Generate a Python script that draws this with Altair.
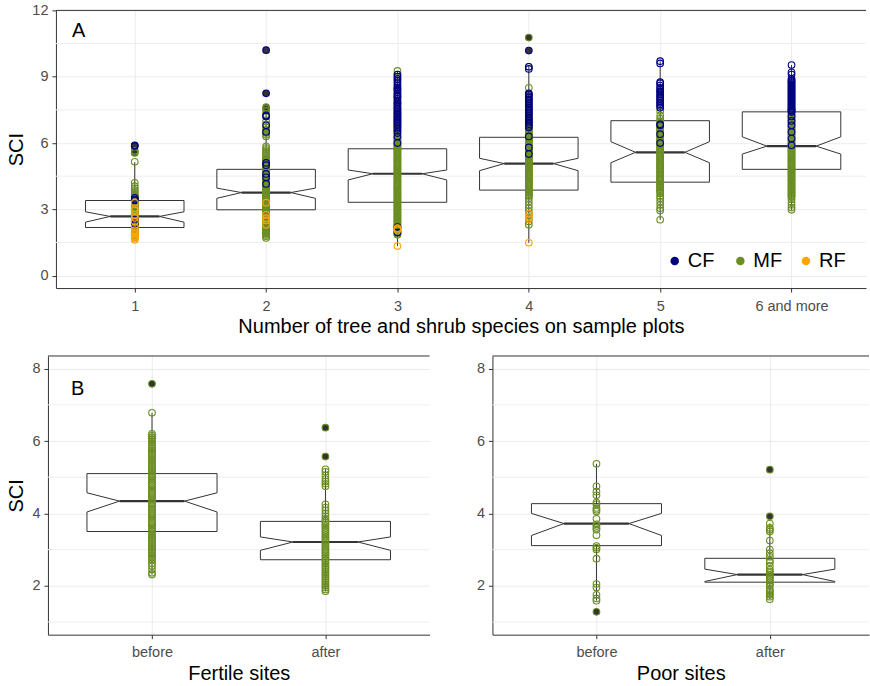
import json
import altair as alt
import pandas as pd

FONT = "Liberation Sans"

# ---------------- data ----------------
types = ["CF", "MF", "RF"]
type_colors = ["#000080", "#6B8E23", "#FFA500"]

top_cats = ["1", "2", "3", "4", "5", "6 and more"]
top_pos = [1, 2, 3, 4, 5, 6]
top_q1 = [2.18, 2.98, 3.32, 3.87, 4.23, 4.81]
top_med = [2.68, 3.76, 4.61, 5.07, 5.58, 5.86]
top_q3 = [3.40, 4.81, 5.74, 6.26, 7.01, 7.41]
top_nlo = [2.42, 3.50, 4.33, 4.75, 5.11, 5.50]
top_nhi = [2.89, 3.96, 4.78, 5.31, 6.06, 6.28]
top_wlo = [1.62, 1.71, 1.34, 1.49, 2.53, 2.98]
top_whi = [5.13, 7.45, 9.26, 9.49, 9.70, 9.53]

top_out_cf = [[5.87, 5.90], [8.25, 10.20], [], [10.18], [], []]
top_out_mf = [[5.55, 5.60, 5.65], [7.55, 7.62], [], [10.77], [], []]

mf_pts = [
    [1.75, 1.82, 1.88, 1.93, 1.98, 2.03, 2.08, 2.13, 2.18, 2.23, 2.28, 2.33, 2.38, 2.43, 2.48,
     2.53, 2.58, 2.63, 2.68, 2.73, 2.78, 2.83, 2.88, 2.93, 2.98, 3.03, 3.08, 3.13, 3.18, 3.23,
     3.28, 3.33, 3.38, 3.44, 3.5, 3.57, 3.63, 3.7, 3.78, 3.86, 3.95, 4.05, 4.2, 5.15, 5.55, 5.6,
     5.65],
    [1.71, 1.78, 1.84, 1.9, 1.95, 2.0, 2.05, 2.1, 2.15, 2.2, 2.25, 2.3, 2.35, 2.4, 2.45, 2.5,
     2.55, 2.6, 2.65, 2.7, 2.75, 2.8, 2.85, 2.9, 2.95, 3.0, 3.05, 3.1, 3.15, 3.2, 3.25, 3.3, 3.35,
     3.4, 3.45, 3.5, 3.55, 3.6, 3.65, 3.7, 3.75, 3.8, 3.85, 3.9, 3.95, 4.0, 4.05, 4.1, 4.15, 4.2,
     4.25, 4.3, 4.35, 4.4, 4.45, 4.5, 4.55, 4.6, 4.65, 4.7, 4.75, 4.8, 4.85, 4.9, 4.95, 5.0, 5.05,
     5.1, 5.15, 5.2, 5.25, 5.3, 5.38, 5.45, 5.52, 5.6, 5.68, 5.77, 5.85, 6.3, 6.38, 6.45, 6.52,
     6.6, 6.7, 6.85, 7.0, 7.3, 7.45, 7.55, 7.62],
    [1.85, 1.9, 1.95, 2.0, 2.05, 2.1, 2.15, 2.2, 2.25, 2.3, 2.35, 2.4, 2.45, 2.5, 2.55, 2.6,
     2.65, 2.7, 2.75, 2.8, 2.85, 2.9, 2.95, 3.0, 3.05, 3.1, 3.15, 3.2, 3.25, 3.3, 3.35, 3.4, 3.45,
     3.5, 3.55, 3.6, 3.65, 3.7, 3.75, 3.8, 3.85, 3.9, 3.95, 4.0, 4.05, 4.1, 4.15, 4.2, 4.25, 4.3,
     4.35, 4.4, 4.45, 4.5, 4.55, 4.6, 4.65, 4.7, 4.75, 4.8, 4.85, 4.9, 4.95, 5.0, 5.05, 5.1, 5.15,
     5.2, 5.25, 5.3, 5.35, 5.4, 5.45, 5.5, 5.55, 5.6, 5.65, 5.7, 5.75, 5.8, 5.85, 5.9, 5.95, 6.0,
     6.05, 6.1, 6.15, 6.2, 6.25, 6.3, 6.4, 6.5, 6.6, 6.7, 6.8, 6.9, 7.0, 7.1, 7.25, 7.4, 7.55,
     7.8, 8.1, 8.45, 8.9, 9.1, 9.26],
    [2.3, 2.45, 2.6, 2.75, 2.9, 3.05, 3.2, 3.35, 3.5, 3.6, 3.65, 3.7, 3.75, 3.8, 3.85, 3.9, 3.95,
     4.0, 4.05, 4.1, 4.15, 4.2, 4.25, 4.3, 4.35, 4.4, 4.45, 4.5, 4.55, 4.6, 4.65, 4.7, 4.75, 4.8,
     4.85, 4.9, 4.95, 5.0, 5.05, 5.1, 5.15, 5.2, 5.25, 5.3, 5.35, 5.4, 5.45, 5.5, 5.55, 5.6, 5.65,
     5.7, 5.75, 5.8, 5.85, 5.9, 5.95, 6.0, 6.05, 6.1, 6.15, 6.2, 6.25, 6.3, 6.35, 6.4, 6.45, 6.5,
     6.55, 6.6, 6.7, 6.8, 6.9, 7.0, 7.1, 7.35, 7.6, 7.9, 8.2, 8.5, 9.45, 10.77],
    [2.53, 2.95, 3.05, 3.2, 3.35, 3.5, 3.6, 3.72, 3.8, 3.86, 3.92, 3.98, 4.04, 4.1, 4.16, 4.22,
     4.28, 4.34, 4.4, 4.46, 4.52, 4.58, 4.64, 4.7, 4.76, 4.82, 4.88, 4.94, 5.0, 5.06, 5.12, 5.18,
     5.24, 5.3, 5.36, 5.42, 5.48, 5.54, 5.6, 5.66, 5.72, 5.78, 5.84, 5.9, 5.96, 6.02, 6.08, 6.14,
     6.2, 6.26, 6.32, 6.38, 6.44, 6.5, 6.56, 6.62, 6.68, 6.74, 6.8, 6.86, 6.92, 6.98, 7.1, 7.25,
     7.45],
    [2.98, 3.08, 3.2, 3.32, 3.45, 3.55, 3.6, 3.65, 3.7, 3.75, 3.8, 3.85, 3.9, 3.95, 4.0, 4.05,
     4.1, 4.15, 4.2, 4.25, 4.3, 4.35, 4.4, 4.45, 4.5, 4.55, 4.6, 4.65, 4.7, 4.75, 4.8, 4.85, 4.9,
     4.95, 5.0, 5.05, 5.1, 5.15, 5.2, 5.25, 5.3, 5.35, 5.4, 5.45, 5.5, 5.55, 5.6, 5.65, 5.7, 5.75,
     5.8, 5.85, 5.9, 5.95, 6.0, 6.05, 6.1, 6.15, 6.2, 6.25, 6.3, 6.35, 6.4, 6.45, 6.5, 6.55, 6.6,
     6.65, 6.7, 6.75, 6.8, 6.85, 6.9, 6.95, 7.0, 7.05, 7.1, 7.15, 7.2, 7.25, 7.3, 7.35, 7.4, 7.45,
     7.5, 7.55],
]
cf_pts = [
    [2.35, 2.52, 3.4, 3.45, 3.52, 5.87, 5.9],
    [4.15, 4.45, 4.6, 5.0, 5.1, 6.5, 6.8, 7.2, 7.25, 8.25, 10.2],
    [1.95, 2.2, 6.0, 6.3, 6.45, 6.55, 6.65, 6.72, 6.8, 6.87, 6.94, 7.0, 7.07, 7.14, 7.2, 7.27,
     7.34, 7.4, 7.48, 7.55, 7.62, 7.7, 7.78, 7.85, 7.92, 8.0, 8.08, 8.15, 8.22, 8.3, 8.38, 8.45,
     8.52, 8.6, 8.7, 8.8, 8.9, 9.0, 9.1],
    [5.5, 5.8, 6.3, 6.7, 6.77, 6.85, 6.92, 7.0, 7.07, 7.15, 7.22, 7.3, 7.38, 7.45, 7.52, 7.6,
     7.68, 7.75, 7.82, 7.9, 7.98, 8.05, 8.12, 8.2, 8.25, 9.35, 9.45, 10.18],
    [6.0, 6.4, 6.8, 6.85, 7.6, 7.68, 7.75, 7.82, 7.9, 7.98, 8.05, 8.12, 8.2, 8.28, 8.35, 8.42,
     8.5, 8.6, 8.7, 8.75, 9.6, 9.7],
    [5.9, 6.2, 6.5, 6.8, 7.0, 7.2, 7.4, 7.45, 7.5, 7.55, 7.6, 7.65, 7.7, 7.75, 7.8, 7.85, 7.9,
     7.95, 8.0, 8.05, 8.1, 8.15, 8.2, 8.25, 8.3, 8.35, 8.4, 8.45, 8.5, 8.55, 8.6, 8.65, 8.7, 8.75,
     8.8, 8.85, 8.9, 9.1, 9.2, 9.53],
]
rf_pts = [
    [1.62, 1.67, 1.72, 1.78, 1.84, 1.9, 1.97, 2.05, 2.2, 2.45, 2.62, 2.75, 2.95, 3.05, 3.3],
    [2.3, 2.5, 2.6, 2.75, 3.3],
    [1.34, 2.07, 2.15],
    [1.49, 2.55, 2.65, 2.8],
    [],
    [],
]

top_y_ticks = [0, 3, 6, 9, 12]
top_y_minor = [1.5, 4.5, 7.5, 10.5]

site_cats = ["before", "after"]
site_pos = [1, 2]
fert_q1 = [3.50, 2.72]
fert_med = [4.34, 3.21]
fert_q3 = [5.10, 3.78]
fert_nlo = [4.04, 2.98]
fert_nhi = [4.57, 3.35]
fert_wlo = [2.31, 1.85]
fert_whi = [6.78, 5.22]
fert_out = [[7.58], [5.57, 6.37]]
fert_pts = [
    [2.31, 2.36, 2.45, 2.55, 2.62, 2.7, 2.75, 2.8, 2.85, 2.9, 2.95, 3.0, 3.05, 3.1, 3.15, 3.2,
     3.25, 3.3, 3.35, 3.4, 3.45, 3.5, 3.55, 3.6, 3.65, 3.7, 3.75, 3.8, 3.85, 3.9, 3.95, 4.0, 4.05,
     4.1, 4.15, 4.2, 4.25, 4.3, 4.35, 4.4, 4.45, 4.5, 4.55, 4.6, 4.65, 4.7, 4.75, 4.8, 4.85, 4.9,
     4.95, 5.0, 5.05, 5.1, 5.15, 5.2, 5.25, 5.3, 5.35, 5.4, 5.45, 5.5, 5.55, 5.6, 5.65, 5.7, 5.75,
     5.8, 5.85, 5.9, 5.95, 6.0, 6.05, 6.1, 6.15, 6.2, 6.78, 7.58],
    [1.85, 1.9, 1.95, 2.0, 2.05, 2.1, 2.15, 2.2, 2.25, 2.3, 2.35, 2.4, 2.45, 2.5, 2.55, 2.6, 2.65,
     2.7, 2.75, 2.8, 2.85, 2.9, 2.95, 3.0, 3.05, 3.1, 3.15, 3.2, 3.25, 3.3, 3.35, 3.4, 3.45, 3.5,
     3.55, 3.6, 3.65, 3.7, 3.75, 3.8, 3.85, 3.92, 4.0, 4.08, 4.16, 4.25, 4.75, 4.82, 4.88, 4.95,
     5.05, 5.15, 5.22, 5.57, 6.37],
]

poor_q1 = [3.11, 2.10]
poor_med = [3.72, 2.31]
poor_q3 = [4.27, 2.76]
poor_nlo = [3.39, 2.12]
poor_nhi = [4.00, 2.46]
poor_wlo = [1.59, 1.63]
poor_whi = [5.37, 3.72]
poor_out = [[1.28], [3.92, 5.21]]
poor_pts = [
    [1.28, 1.59, 1.65, 1.75, 1.95, 2.05, 2.75, 3.0, 3.05, 3.1, 3.4, 3.55, 3.6, 3.65, 3.7, 3.85,
     4.05, 4.1, 4.15, 4.25, 4.3, 4.5, 4.6, 4.75, 5.37],
    [1.63, 1.7, 1.75, 1.8, 1.85, 1.9, 2.0, 2.05, 2.1, 2.15, 2.2, 2.25, 2.3, 2.35, 2.4, 2.45,
     2.55, 2.65, 2.7, 2.8, 2.9, 3.0, 3.25, 3.5, 3.55, 3.6, 3.72, 3.92, 5.21],
]

site_y_ticks = [2, 4, 6, 8]
site_y_minor = [1, 3, 5, 7]

# ---------------- helpers ----------------
HALF = 0.375
OUTLINE = [(-1, "q3"), (-1, "nhi"), (-0.5, "med"), (-1, "nlo"), (-1, "q1"),
           (1, "q1"), (1, "nlo"), (0.5, "med"), (1, "nhi"), (1, "q3"), (-1, "q3")]
INK = "#333333"
GRID = "#ebebeb"
MINOR = "#efefef"
LEG_X0, LEG_STEP, LEG_Y, LEG_TXT = 619.5, 65.7, 251, 13


def panel(pos, cats, q1, med, q3, nlo, nhi, wlo, whi, outl, points, xdom, ydom,
          yticks, yminor, width, height, xtitle, ytitle, letter, letter_xy, legend=False):
    outline_rows = []
    for i, p in enumerate(pos):
        st = dict(q1=q1[i], med=med[i], q3=q3[i], nlo=nlo[i], nhi=nhi[i])
        for k, (f, s) in enumerate(OUTLINE):
            outline_rows.append(dict(box=i, k=k, x=p + f * HALF, y=st[s]))
    outline = pd.DataFrame(outline_rows)
    stats = pd.DataFrame(dict(x=pos, xl=[p - HALF / 2 for p in pos], xr=[p + HALF / 2 for p in pos],
                              med=med, q1=q1, q3=q3, wlo=wlo, whi=whi))
    out_rows = [dict(x=pos[i], y=v) for i, vals in enumerate(outl) for v in vals]
    outdf = pd.DataFrame(out_rows, columns=["x", "y"])
    ptdf = pd.DataFrame(points, columns=["x", "y", "type"])

    xs = alt.Scale(domain=xdom, zero=False, nice=False)
    ys = alt.Scale(domain=ydom, zero=False, nice=False)
    label_expr = json.dumps(cats) + "[round(datum.value) - 1]"
    xaxis = alt.Axis(values=pos, labelExpr=label_expr, title=xtitle, grid=True,
                     labelPadding=7, titlePadding=4)
    yaxis = alt.Axis(values=yticks, title=ytitle, grid=True, minExtent=0,
                     labelPadding=4, titlePadding=5)

    def X(f):
        return alt.X(f, type="quantitative", scale=xs, axis=xaxis)

    def Y(f):
        return alt.Y(f, type="quantitative", scale=ys, axis=yaxis)

    layers = []
    layers.append(alt.Chart(pd.DataFrame({"m": yminor})).mark_rule(color=MINOR, strokeWidth=1)
                  .encode(y=Y("m")))
    layers.append(alt.Chart(stats).mark_rule(color=INK, strokeWidth=1).encode(x=X("x"), y=Y("q3"), y2="whi"))
    layers.append(alt.Chart(stats).mark_rule(color=INK, strokeWidth=1).encode(x=X("x"), y=Y("wlo"), y2="q1"))
    layers.append(alt.Chart(outline).mark_line(color=INK, strokeWidth=1)
                  .encode(x=X("x"), y=Y("y"), detail="box:N", order="k:Q"))
    layers.append(alt.Chart(stats).mark_rule(color=INK, strokeWidth=2.2)
                  .encode(x=X("xl"), x2="xr", y=Y("med")))
    layers.append(alt.Chart(outdf).mark_point(filled=True, color=INK, size=44, opacity=1)
                  .encode(x=X("x"), y=Y("y")))
    layers.append(alt.Chart(ptdf).mark_point(filled=False, size=44, strokeWidth=1.1, opacity=1)
                  .encode(x=X("x"), y=Y("y"),
                          stroke=alt.Stroke("type:N", scale=alt.Scale(domain=types, range=type_colors),
                                            legend=None)))
    if legend:
        for i, (t, c) in enumerate(zip(types, type_colors)):
            d = pd.DataFrame({"t": [t]})
            layers.append(alt.Chart(d).mark_point(filled=True, size=72, color=c, opacity=1)
                          .encode(x=alt.value(LEG_X0 + i * LEG_STEP), y=alt.value(LEG_Y)))
            layers.append(alt.Chart(d).mark_text(fontSize=20, font=FONT, align="left",
                                                 baseline="middle", color="black")
                          .encode(x=alt.value(LEG_X0 + i * LEG_STEP + LEG_TXT), y=alt.value(LEG_Y),
                                  text="t:N"))
    if letter:
        one = pd.DataFrame({"t": [letter]})
        layers.append(alt.Chart(one).mark_text(fontSize=20, font=FONT, align="left", baseline="middle",
                                               color="black")
                      .encode(x=alt.value(letter_xy[0]), y=alt.value(letter_xy[1]), text="t:N"))
    layers.append(alt.Chart(pd.DataFrame({"t": [0]})).mark_rule(color=INK, strokeWidth=1)
                  .encode(x=alt.value(0), x2=alt.value(width), y=alt.value(0)))
    return alt.layer(*layers).properties(width=width, height=height)


def pts_table(pos, groups):
    rows = []
    for tname, lists in groups:
        for i, vals in enumerate(lists):
            for v in vals:
                rows.append((pos[i], v, tname))
    return rows


def spacer():
    return (alt.Chart(pd.DataFrame({"s": [0]})).mark_point(opacity=0, size=1)
            .encode(x=alt.value(0), y=alt.value(0)).properties(width=1, height=1))


top_points = pts_table(top_pos, [("MF", mf_pts), ("CF", cf_pts), ("RF", rf_pts)])
top_outl = [a + b for a, b in zip(top_out_cf, top_out_mf)]

top = panel(top_pos, top_cats, top_q1, top_med, top_q3, top_nlo, top_nhi, top_wlo, top_whi,
            top_outl, top_points, [0.4, 6.567], [-0.56, 12.0], top_y_ticks, top_y_minor,
            811, 278, "Number of tree and shrub species on sample plots", "SCI", "A", (16, 21),
            legend=True)

fert = panel(site_pos, site_cats, fert_q1, fert_med, fert_q3, fert_nlo, fert_nhi, fert_wlo, fert_whi,
             fert_out, pts_table(site_pos, [("MF", fert_pts)]), [0.4, 2.6], [0.65, 8.35],
             site_y_ticks, site_y_minor, 382, 279, "Fertile sites", "SCI", "B", (23, 33))
poor = panel(site_pos, site_cats, poor_q1, poor_med, poor_q3, poor_nlo, poor_nhi, poor_wlo, poor_whi,
             poor_out, pts_table(site_pos, [("MF", poor_pts)]), [0.4, 2.572], [0.65, 8.35],
             site_y_ticks, site_y_minor, 377, 279, "Poor sites", None, "", (22, 33))

top_row = alt.hconcat(spacer(), top, spacing=4)
bottom_row = alt.hconcat(spacer(), alt.hconcat(fert, poor, spacing=45), spacing=4)

chart = alt.vconcat(top_row, bottom_row, spacing=18).properties(
    padding={"left": 0, "top": 2, "right": 0, "bottom": 0},
    background="white",
).configure_view(stroke=None).configure_axis(
    domainColor=INK, domainWidth=1, tickColor=INK, tickSize=4, tickWidth=1,
    gridColor=GRID, gridWidth=1,
    labelFont=FONT, labelFontSize=14.5, labelColor="#4D4D4D",
    titleFont=FONT, titleFontSize=20, titleFontWeight="normal", titleColor="black",
).configure_axisX(labelFlush=False)

chart.save("out.html", embed_options={"renderer": "svg", "actions": False})
